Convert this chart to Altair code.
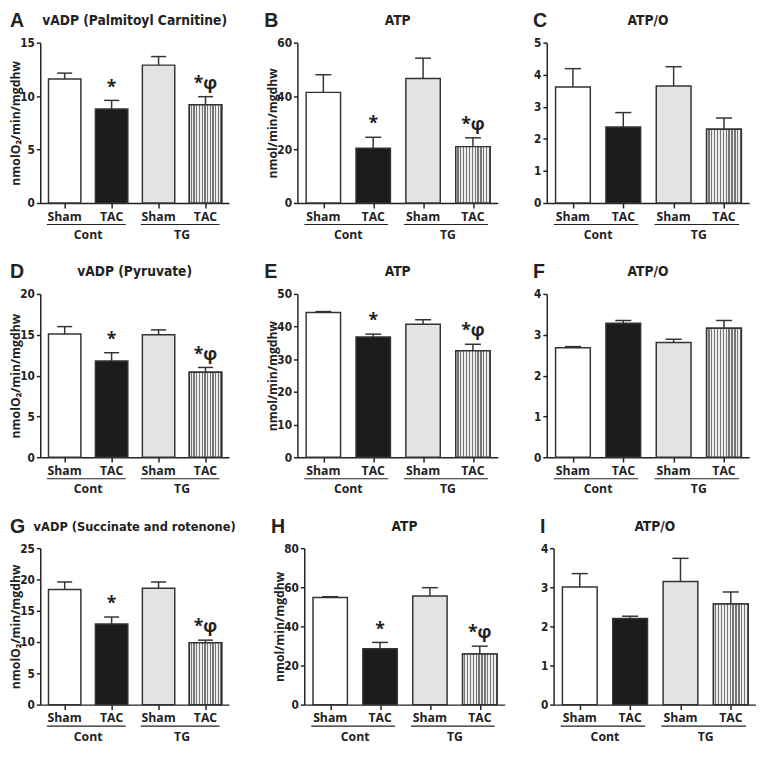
import altair as alt
import pandas as pd

# ---------------- data ----------------
letters = ["A", "B", "C", "D", "E", "F", "G", "H", "I"]
titles = ["vADP (Palmitoyl Carnitine)", "ATP", "ATP/O",
          "vADP (Pyruvate)", "ATP", "ATP/O",
          "vADP (Succinate and rotenone)", "ATP", "ATP/O"]
y_titles = ["nmolO₂/min/mgdhw", "nmol/min/mgdhw", "",
            "nmolO₂/min/mgdhw", "nmol/min/mgdhw", "",
            "nmolO₂/min/mgdhw", "nmol/min/mgdhw", ""]
y_max = [15, 60, 5, 20, 50, 4, 25, 80, 4]
y_ticks = [[0, 5, 10, 15], [0, 20, 40, 60], [0, 1, 2, 3, 4, 5],
           [0, 5, 10, 15, 20], [0, 10, 20, 30, 40, 50], [0, 1, 2, 3, 4],
           [0, 5, 10, 15, 20, 25], [0, 20, 40, 60, 80], [0, 1, 2, 3, 4]]

groups = ["Cont", "Cont", "TG", "TG"]
conditions = ["Sham", "TAC", "Sham", "TAC"]
positions = [0, 1, 2, 3]
kinds = ["white", "black", "gray", "striped"]

means = [
    [11.6, 8.8, 12.9, 9.2],
    [41.4, 20.5, 46.6, 21.1],
    [3.62, 2.37, 3.65, 2.30],
    [15.1, 11.8, 15.0, 10.4],
    [44.3, 36.8, 40.7, 32.6],
    [2.68, 3.28, 2.81, 3.16],
    [18.4, 12.9, 18.6, 9.9],
    [54.8, 28.6, 55.6, 25.9],
    [3.01, 2.20, 3.15, 2.57],
]
sems = [
    [0.55, 0.8, 0.8, 0.75],
    [6.6, 4.1, 7.6, 3.3],
    [0.57, 0.45, 0.6, 0.35],
    [0.9, 1.0, 0.6, 0.6],
    [0.3, 0.9, 1.4, 2.0],
    [0.03, 0.07, 0.08, 0.19],
    [1.2, 1.1, 1.0, 0.4],
    [0.4, 3.2, 4.2, 4.0],
    [0.34, 0.06, 0.59, 0.31],
]
sig_marks = [
    ["", "*", "", "*φ"], ["", "*", "", "*φ"], ["", "", "", ""],
    ["", "*", "", "*φ"], ["", "*", "", "*φ"], ["", "", "", ""],
    ["", "*", "", "*φ"], ["", "*", "", "*φ"], ["", "", "", ""],
]

# ---------------- style ----------------
COND = "Liberation Sans Narrow, DejaVu Sans Condensed, Roboto, sans-serif"
SANS = "Open Sans"
INK = "#222222"
fill_colors = ["#ffffff", "#1c1c1c", "#e2e3e4", "#c8c8c8"]
col_widths = [193, 205, 207]
row_heights = [164, 167, 160]
letter_dx = [-31, -34, -14]
title_sizes = [14, 14, 14, 14, 14, 14, 13, 14, 14]

n_stripes = 12
stops = []
for k in range(n_stripes):
    a = k / n_stripes
    m = (k + 0.55) / n_stripes
    b = (k + 1) / n_stripes
    stops += [alt.GradientStop(color="#ececec", offset=a),
              alt.GradientStop(color="#ececec", offset=m),
              alt.GradientStop(color="#777777", offset=m),
              alt.GradientStop(color="#777777", offset=b)]
stripe_fill = alt.LinearGradient(gradient="linear", stops=stops, x1=0, x2=1, y1=0, y2=0)


def make_panel(i):
    row, col = divmod(i, 3)
    w, h = col_widths[col], row_heights[row]
    df = pd.DataFrame({
        "pos": positions, "grp": groups, "cond": conditions, "kind": kinds,
        "mean": means[i], "sem": sems[i], "mark": sig_marks[i],
    })
    base = alt.Chart(df).transform_calculate(
        lo="datum.pos - 0.345", hi="datum.pos + 0.345",
        top="datum.mean + datum.sem",
        clo="datum.pos - 0.16", chi="datum.pos + 0.16",
    )
    xs = alt.Scale(domain=[-0.52, 3.5], nice=False, zero=False)
    ys = alt.Scale(domain=[0, y_max[i]], nice=False)
    xaxis = alt.Axis(values=positions, labels=False, title=None, tickSize=5)
    yaxis = alt.Axis(values=y_ticks[i], title=(y_titles[i] if y_titles[i] else None),
                     tickSize=4, labelPadding=2, minExtent=16, maxExtent=16,
                     titleFont=SANS, titleFontWeight="bold", titleFontSize=12.5,
                     titleColor=INK, titlePadding=2)

    def X(f):
        return alt.X(f, scale=xs, axis=xaxis)

    def Y(f):
        return alt.Y(f, scale=ys, axis=yaxis)

    bars = base.mark_bar(stroke="#333333", strokeWidth=1.5).encode(
        x=X("lo:Q"), x2="hi:Q", y=Y("mean:Q"), y2=alt.datum(0),
        fill=alt.Fill("kind:N", scale=alt.Scale(domain=kinds, range=fill_colors), legend=None),
    )
    stripes = base.transform_filter("datum.kind == 'striped'").mark_bar(
        fill=stripe_fill, stroke="#333333", strokeWidth=1.5
    ).encode(x=X("lo:Q"), x2="hi:Q", y=Y("mean:Q"), y2=alt.datum(0))
    stem = base.mark_rule(color="#333333", strokeWidth=1.5).encode(
        x=X("pos:Q"), y=Y("mean:Q"), y2="top:Q")
    cap = base.mark_rule(color="#333333", strokeWidth=1.5).encode(
        x=X("clo:Q"), x2="chi:Q", y=Y("top:Q"))
    stars = base.transform_filter("datum.mark != ''").mark_text(
        font=SANS, fontWeight="bold", fontSize=18, baseline="alphabetic", dy=-8, color=INK
    ).encode(x=X("pos:Q"), y=Y("top:Q"), text="mark:N")
    cond = base.mark_text(font=SANS, fontWeight="bold", fontSize=12.5,
                          baseline="middle", color=INK).encode(
        x=X("pos:Q"), y=alt.value(h + 14), text="cond:N")
    grp = base.transform_aggregate(
        start="min(pos)", end="max(pos)", groupby=["grp"]
    ).transform_calculate(
        s="datum.start - 0.38", e="datum.end + 0.3", c="(datum.start + datum.end) / 2"
    )
    underline = grp.mark_rule(color=INK, strokeWidth=1.2).encode(
        x=X("s:Q"), x2="e:Q", y=alt.value(h + 22))
    glabel = grp.mark_text(font=SANS, fontWeight="bold", fontSize=12.5,
                           baseline="middle", color=INK).encode(
        x=X("c:Q"), y=alt.value(h + 33), text="grp:N")

    head = alt.Chart(pd.DataFrame({"letter": [letters[i]], "title": [titles[i]]}))
    letter = head.mark_text(
        font="Liberation Sans", fontWeight="bold", fontSize=20, align="left",
        baseline="middle", color=INK
    ).encode(x=alt.value(letter_dx[col]), y=alt.value(-22), text="letter:N")
    title = head.mark_text(
        font=COND, fontWeight="bold", fontSize=title_sizes[i], align="center",
        baseline="middle", color=INK
    ).encode(x=alt.value(w / 2), y=alt.value(-22), text="title:N")

    return alt.layer(bars, stripes, stem, cap, stars, cond, underline, glabel,
                     letter, title).properties(width=w, height=h)


def make_row(r):
    p = [make_panel(r * 3 + c) for c in range(3)]
    right = alt.hconcat(p[1], p[2], spacing=34)
    return alt.hconcat(p[0], right, spacing=36)


chart = alt.vconcat(make_row(0), make_row(1), make_row(2), spacing=21).properties(
    padding={"left": 2, "top": -5, "right": 0, "bottom": 0}
).configure_view(
    strokeWidth=0
).configure_axis(
    grid=False, domainColor=INK, domainWidth=1.5, tickColor=INK, tickWidth=1.5,
    labelColor=INK, labelFont=COND, labelFontWeight="bold", labelFontSize=12,
)

chart.save("out.html", embed_options={"renderer": "svg", "actions": False})
